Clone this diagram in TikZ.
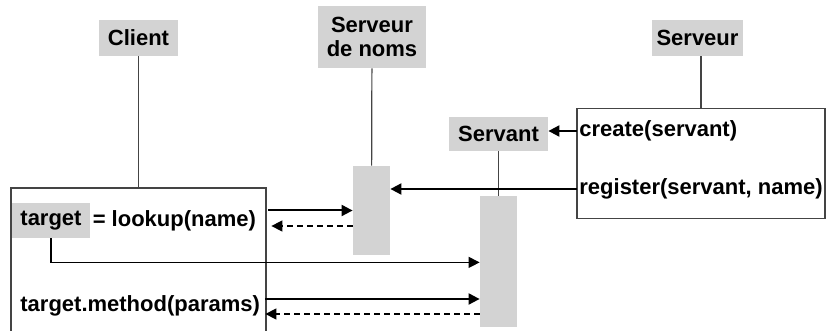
\documentclass[tikz,border=0pt]{standalone}
\usepackage{fontspec}
\setmainfont{Liberation Sans}
\usetikzlibrary{arrows.meta}
\definecolor{boxGray}{HTML}{D3D3D3}
\definecolor{lineGray}{HTML}{444444}

\begin{document}
\begin{tikzpicture}[x=0.5pt,y=-0.5pt,
      font=\bfseries\fontsize{11}{12}\selectfont,
      lbl/.style={fill=boxGray,inner sep=0pt,align=center},
      act/.style={fill=boxGray,inner sep=0pt,minimum width=18.5pt},
      frame/.style={draw=lineGray,line width=0.6pt,inner sep=0pt},
      txt/.style={anchor=west,inner sep=1pt},
      life/.style={draw=lineGray,line width=0.6pt},
      call/.style={-{Triangle[length=5.5pt,width=5.5pt]},line width=1pt},
      ret/.style={-{Triangle[length=5.5pt,width=5.5pt]},line width=0.7pt,
                  dash pattern=on 3pt off 2pt}]
  \useasboundingbox (0,0) rectangle (830,331);
  \clip (0,0) rectangle (830,331);

  % objects
  \node[lbl,minimum width=39.5pt,minimum height=18pt] (client)  at (138.5,38) {Client};
  \node[lbl,minimum width=54pt,minimum height=31pt]   (noms)    at (372,37)   {Serveur\\de noms};
  \node[lbl,minimum width=45.5pt,minimum height=18pt] (serveur) at (697.5,38) {Serveur};
  \node[lbl,minimum width=49.5pt,minimum height=17pt] (servant) at (498.5,134) {Servant};

  % activations and frames
  \node[act,minimum height=44.5pt] (nomsbar) at (371.5,210.5) {};
  \node[act,minimum height=65.5pt] (servbar) at (498.5,261.5) {};
  \node[frame,minimum width=127.5pt,minimum height=80pt] (clibox) at (138.5,268) {};
  \node[frame,minimum width=124pt,minimum height=55pt] (srvbox) at (701,163.5) {};

  % lifelines
  \draw[life] (client) -- (client |- clibox.north);
  \draw[life] (noms) -- (nomsbar);
  \draw[life] (serveur.south -| srvbox.north) -- (srvbox.north);
  \draw[life] (servant) -- (servbar);

  % server side
  \node[txt] (create)   at (577,131) {create(servant)};
  \node[txt] (register) at (577,189) {register(servant, name)};
  \draw[call] (create.west) -- (create.west -| servant.east);
  \draw[call] (register.west) -- (register.west -| nomsbar.east);

  % client side
  \node[lbl,minimum width=39pt,minimum height=17.5pt] (target) at (51,220.5) {target};
  \node[txt] (lookup) at (target.east) {= lookup(name)};
  \node[txt] (method) at (18,306) {target.method(params)};

  \coordinate (q1) at ([shift={(10,-10)}]lookup.east);
  \coordinate (r1) at ([shift={(13,5.5)}]lookup.east);
  \draw[call] (q1) -- (q1 -| nomsbar.west);
  \draw[ret] (r1 -| nomsbar.west) -- (r1);

  \draw[call,line width=0.6pt] (target.south) -- ++(0,24) coordinate (t1)
    -- (t1 -| servbar.west);

  \coordinate (q2) at ([shift={(3,-7)}]method.east);
  \coordinate (r2) at ([shift={(3,8)}]method.east);
  \draw[call] (q2) -- (q2 -| servbar.west);
  \draw[ret] (r2 -| servbar.west) -- (r2);
\end{tikzpicture}
\end{document}
